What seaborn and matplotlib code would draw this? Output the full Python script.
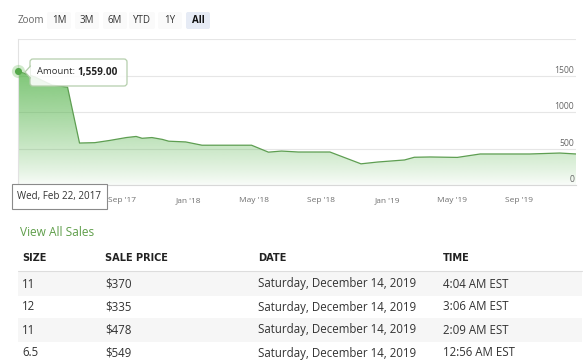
import numpy as np
import pandas as pd
import matplotlib
matplotlib.use("Agg")
import matplotlib.pyplot as plt
import matplotlib.dates as mdates
from matplotlib import font_manager
import seaborn as sns
from matplotlib.patches import FancyBboxPatch, Rectangle, Polygon

# ---------------- data ----------------
sale_dates = ["2017-02-22", "2017-03-25", "2017-04-25", "2017-05-24", "2017-06-15",
              "2017-07-13", "2017-08-09", "2017-09-09", "2017-09-27", "2017-10-08",
              "2017-10-26", "2017-11-14", "2017-11-26", "2017-12-27", "2018-01-26",
              "2018-04-27", "2018-05-28", "2018-06-21", "2018-07-22", "2018-09-18",
              "2018-11-14", "2018-12-15", "2019-02-02", "2019-02-20", "2019-03-21",
              "2019-05-10", "2019-06-21", "2019-09-20", "2019-11-14", "2019-12-14"]
sale_amounts = [1559, 1480, 1370, 1340, 575,
                580, 610, 650, 665, 640,
                650, 625, 600, 590, 545,
                545, 450, 465, 452, 452,
                290, 315, 343, 380, 384,
                378, 425, 425, 438, 425]

xtick_dates = ["2017-09-01", "2018-01-01", "2018-05-01", "2018-09-01",
               "2019-01-01", "2019-05-01", "2019-09-01"]
xtick_labels = ["Sep '17", "Jan '18", "May '18", "Sep '18", "Jan '19", "May '19", "Sep '19"]
ytick_values = [0, 500, 1000, 1500]
zoom_buttons = ["1M", "3M", "6M", "YTD", "1Y", "All"]
tooltip_label = "Amount:"
tooltip_value = "1,559.00"
date_label = "Wed, Feb 22, 2017"
link_text = "View All Sales"

table_columns = ["SIZE", "SALE PRICE", "DATE", "TIME"]
table_sizes = ["11", "12", "11", "6.5"]
table_prices = ["$370", "$335", "$478", "$549"]
table_dates = ["Saturday, December 14, 2019"] * 4
table_times = ["4:04 AM EST", "3:06 AM EST", "2:09 AM EST", "12:56 AM EST"]

# ---------------- figure ----------------
sns.set_style("white")
plt.rcParams["font.family"] = ["Open Sans", "DejaVu Sans"]

# condensed header font choice
_names = {f.name for f in font_manager.fontManager.ttflist}
_cond = [f for f in font_manager.fontManager.ttflist
         if f.name == "DejaVu Sans" and "Condensed" in f.fname]
if "Liberation Sans Narrow" in _names:
    head_kw = dict(family=["Liberation Sans Narrow"], fontsize=8.8)
elif _cond:
    head_kw = dict(family=["DejaVu Sans"], fontstretch="condensed", fontsize=7.8)
else:
    head_kw = dict(family=["Roboto"], fontsize=7.6)

W, H = 588, 361
fig = plt.figure(figsize=(W / 100, H / 100), dpi=100)
fig.patch.set_facecolor("white")

df = pd.DataFrame({"date": pd.to_datetime(sale_dates), "amount": sale_amounts})

ax = fig.add_axes([18 / W, 1 - 185 / H, 558 / W, 146 / H])
ax.set_facecolor("white")
ax.set_xlim(df["date"].iloc[0], df["date"].iloc[-1])
ax.set_ylim(0, 2000)

# gradient area fill
poly = ax.fill_between(df["date"], df["amount"], 0, facecolor="none", edgecolor="none")
n = 256
frac = np.linspace(0, 1, n)
alpha = 0.03 + 0.9 * frac ** 0.85
img = np.zeros((n, 1, 4))
img[:, 0, 0] = 85 / 255
img[:, 0, 1] = 180 / 255
img[:, 0, 2] = 75 / 255
img[:, 0, 3] = alpha
x0, x1 = ax.get_xlim()
im = ax.imshow(img, extent=[x0, x1, 0, 2000], origin="lower", aspect="auto",
               interpolation="bilinear", zorder=1)
im.set_clip_path(poly.get_paths()[0], transform=ax.transData)

sns.lineplot(data=df, x="date", y="amount", ax=ax, color="#5e9e52",
             linewidth=0.9, zorder=3)

# grid & axes
ax.set_yticks([0, 500, 1000, 1500, 2000])
ax.set_yticklabels([])
ax.yaxis.grid(True, color="#e6e6e6", linewidth=0.8)
ax.xaxis.grid(False)
ax.tick_params(axis="y", length=0)
for s in ["top", "right"]:
    ax.spines[s].set_visible(False)
ax.spines["left"].set_color("#e2e2e2")
ax.spines["left"].set_linewidth(0.8)
ax.spines["bottom"].set_color("#d8d8d8")
ax.spines["bottom"].set_linewidth(0.8)
ax.set_xlabel("")
ax.set_ylabel("")

ax.set_xticks(pd.to_datetime(xtick_dates))
ax.set_xticklabels(xtick_labels)
ax.tick_params(axis="x", length=6, width=0.7, color="#d8d8d8",
               labelsize=6, labelcolor="#707070", pad=2.5)

for v in ytick_values:
    ax.annotate(str(v), xy=(0.997, v), xycoords=("axes fraction", "data"),
                ha="right", va="bottom", fontsize=6.2, color="#666666",
                xytext=(0, 0.5), textcoords="offset points")

# point marker
ax.scatter([df["date"].iloc[0]], [df["amount"].iloc[0]], s=90, color="#7cc46f",
           alpha=0.35, zorder=5, clip_on=False, linewidths=0)
ax.scatter([df["date"].iloc[0]], [df["amount"].iloc[0]], s=26, color="#55a84a",
           zorder=6, clip_on=False, linewidths=0)

# ---------------- overlay in pixel coords ----------------
ov = fig.add_axes([0, 0, 1, 1], zorder=10)
ov.set_xlim(0, W)
ov.set_ylim(H, 0)
ov.axis("off")
ov.patch.set_alpha(0)

# zoom buttons
ov.text(18, 20.5, "Zoom", ha="left", va="center", fontsize=7.1, color="#666666")
btn_x = [59, 87, 115, 142, 170, 198]
for i, (b, bx) in enumerate(zip(zoom_buttons, btn_x)):
    sel = (b == "All")
    w = 24 if b != "YTD" else 26
    ov.add_patch(FancyBboxPatch((bx - w / 2, 12), w, 17,
                                boxstyle="round,pad=0,rounding_size=2",
                                fc="#e6ebf5" if sel else "#fafafa", ec="none"))
    ov.text(bx, 20.5, b, ha="center", va="center", fontsize=7,
            color="#111111" if sel else "#333333",
            fontweight="bold" if sel else "normal")

# tooltip
ov.add_patch(FancyBboxPatch((30, 59), 97, 27, boxstyle="round,pad=0,rounding_size=3",
                            fc=(1, 1, 1, 0.88), ec="#b5cfac", lw=0.9, zorder=2))
ov.add_patch(Polygon([[30.6, 66], [25, 72], [30.6, 78]], closed=True,
                     fc="white", ec="none", zorder=3))
ov.plot([30.5, 25, 30.5], [66, 72, 78], color="#b5cfac", lw=0.9, zorder=4)
ov.text(37, 72, tooltip_label, ha="left", va="center", fontsize=6.8, color="#333333", zorder=5)
ov.text(77, 72, tooltip_value, ha="left", va="center", fontsize=7.2, color="#222222",
        fontweight="bold", zorder=5)

# date label box
ov.add_patch(Rectangle((12, 184), 95, 25, fc="white", ec="#8a8a8a", lw=0.8, zorder=2))
ov.text(17, 196.5, date_label, ha="left", va="center", fontsize=7.1, color="#333333", zorder=3)

# link
ov.text(20, 232, link_text, ha="left", va="center", fontsize=8.6, color="#5f9e4a")

# table
col_x = [22, 105, 258, 443]
for cx, c in zip(col_x, table_columns):
    ov.text(cx, 258, c, ha="left", va="center", color="#222222",
            fontweight="bold", **head_kw)
ov.plot([18, 582], [271, 271], color="#dddddd", lw=0.8)

row_y = [284, 307, 330, 353]
for i, ry in enumerate(row_y):
    if i % 2 == 0:
        ov.add_patch(Rectangle((18, ry - 12), 564, 23.5, fc="#f6f6f6", ec="none", zorder=0))
    vals = [table_sizes[i], table_prices[i], table_dates[i], table_times[i]]
    for cx, v in zip(col_x, vals):
        ov.text(cx, ry, v, ha="left", va="center", fontsize=8.3, color="#333333")

fig.savefig("out.png", dpi=100, facecolor="white")
